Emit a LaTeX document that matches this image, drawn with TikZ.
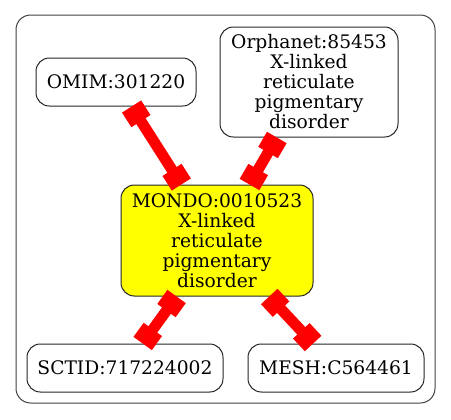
\documentclass[tikz,border=0pt]{standalone}
\usepackage{fontspec}
\setmainfont{DejaVu Serif}
\usetikzlibrary{arrows.meta}
\definecolor{gvyellow}{RGB}{255,255,0}
\definecolor{gvred}{RGB}{255,0,0}
\tikzset{
  term/.style={draw=black!85, line width=0.75pt, rounded corners=10pt, inner sep=0pt, align=center,
    font=\fontsize{14pt}{15pt}\selectfont},
  link/.style={draw=gvred, line width=8.2pt,
    {Square[length=13pt,width=17pt]}-{Square[length=13pt,width=17pt]}},
  frame/.style={draw=black!75, line width=0.75pt, rounded corners=11pt}
}
\begin{document}
\begin{tikzpicture}[x=0.75pt,y=-0.75pt]
\useasboundingbox (0,0) rectangle (451,419);
\draw[frame] (16,15) rectangle (435,403);
\node[term, minimum width=120pt, minimum height=36pt] (omim) at (116,82) {OMIM:301220};
\node[term, minimum width=133.5pt, minimum height=82.5pt] (orpha) at (309,82) {Orphanet:85453\\X-linked\\reticulate\\pigmentary\\disorder};
\node[term, fill=gvyellow, minimum width=144pt, minimum height=83.25pt] (mondo) at (217,240.5) {MONDO:0010523\\X-linked\\reticulate\\pigmentary\\disorder};
\node[term, minimum width=147pt, minimum height=36pt] (sctid) at (125,368) {SCTID:717224002};
\node[term, minimum width=132pt, minimum height=36pt] (mesh) at (336,368) {MESH:C564461};
\draw[link] (omim) -- (mondo);
\draw[link] (orpha) -- (mondo);
\draw[link] (sctid) -- (mondo);
\draw[link] (mesh) -- (mondo);
\end{tikzpicture}
\end{document}
